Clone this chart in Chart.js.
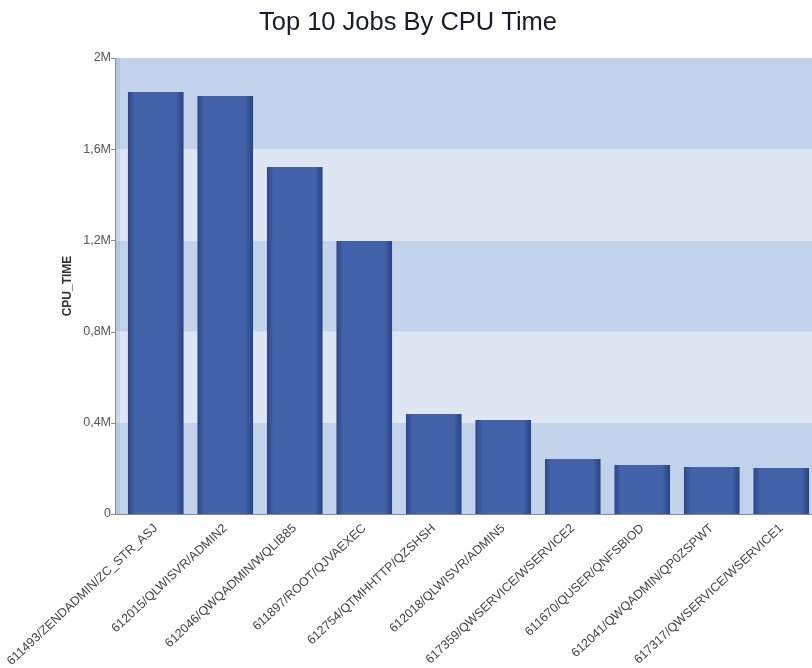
<!DOCTYPE html>
<html>
<head>
<meta charset="utf-8">
<script src="https://cdn.jsdelivr.net/npm/chart.js@4.4.1/dist/chart.umd.min.js"></script>
<style>
  body { margin: 0; overflow: hidden; background: #fff; }
</style>
</head>
<body>
<canvas id="cpuChart" width="816" height="668"></canvas>
<script>
const jobs = [
  '611493/ZENDADMIN/ZC_STR_ASJ',
  '612015/QLWISVR/ADMIN2',
  '612046/QWQADMIN/WQLIB85',
  '611897/ROOT/QJVAEXEC',
  '612754/QTMHHTTP/QZSHSH',
  '612018/QLWISVR/ADMIN5',
  '617359/QWSERVICE/WSERVICE2',
  '611670/QUSER/QNFSBIOD',
  '612041/QWQADMIN/QP0ZSPWT',
  '617317/QWSERVICE/WSERVICE1'
];
const cpuTime = [1851000, 1833000, 1522000, 1197000, 439000, 412000, 241000, 215000, 206000, 202000];
const yTickValues = [0, 400000, 800000, 1200000, 1600000, 2000000];
const yTickLabels = ['0', '0,4M', '0,8M', '1,2M', '1,6M', '2M'];

const AXIS_X = 115;

// striped background, left strip and axis lines
const bands = {
  id: 'bands',
  beforeDatasetsDraw(chart) {
    const { ctx, chartArea, scales: { y } } = chart;
    ctx.save();
    for (let i = 0; i < yTickValues.length - 1; i++) {
      const top = y.getPixelForValue(yTickValues[i + 1]);
      const bot = y.getPixelForValue(yTickValues[i]);
      ctx.fillStyle = i % 2 === 0 ? '#c2d2ea' : '#dde6f2';
      ctx.fillRect(AXIS_X, top, chartArea.right - AXIS_X, bot - top);
    }
    ctx.fillStyle = 'rgba(110,140,190,0.18)';
    ctx.fillRect(AXIS_X + 1, chartArea.top, chartArea.left - AXIS_X - 2, chartArea.bottom - chartArea.top);
    ctx.restore();
  },
  afterDatasetsDraw(chart) {
    const { ctx, chartArea, scales: { y } } = chart;
    ctx.save();
    ctx.strokeStyle = '#8a8a8a';
    ctx.lineWidth = 1;
    ctx.beginPath();
    ctx.moveTo(AXIS_X + 0.5, chartArea.top);
    ctx.lineTo(AXIS_X + 0.5, chartArea.bottom);
    ctx.moveTo(AXIS_X, chartArea.bottom + 0.5);
    ctx.lineTo(chartArea.right, chartArea.bottom + 0.5);
    yTickValues.forEach(v => {
      const py = Math.round(y.getPixelForValue(v)) + 0.5;
      ctx.moveTo(AXIS_X - 4, py);
      ctx.lineTo(AXIS_X, py);
    });
    ctx.stroke();
    ctx.restore();
  }
};

function barFill(c) {
  const chart = c.chart;
  const x = chart.scales.x;
  if (!x || !chart.chartArea || c.dataIndex === undefined) return '#4262aa';
  const cx = x.getPixelForValue(c.dataIndex);
  const w = (x.width / jobs.length) * 0.8;
  const g = chart.ctx.createLinearGradient(cx - w / 2, 0, cx + w / 2, 0);
  g.addColorStop(0, '#2b4686');
  g.addColorStop(0.12, '#4262aa');
  g.addColorStop(0.86, '#4262aa');
  g.addColorStop(1, '#294381');
  return g;
}

const ctx = document.getElementById('cpuChart').getContext('2d');
new Chart(ctx, {
  type: 'bar',
  data: {
    labels: jobs,
    datasets: [{
      label: 'CPU_TIME',
      data: cpuTime,
      backgroundColor: barFill,
      borderWidth: 0,
      categoryPercentage: 1,
      barPercentage: 0.8
    }]
  },
  options: {
    responsive: false,
    animation: false,
    layout: { padding: 0 },
    plugins: {
      legend: { display: false },
      tooltip: { enabled: false },
      title: {
        display: true,
        text: 'Top 10 Jobs By CPU Time',
        color: '#1a1a2a',
        font: { family: 'Liberation Sans, Arial, sans-serif', size: 25.5, weight: 'normal' },
        padding: { top: 8, bottom: 19.4 }
      }
    },
    scales: {
      y: {
        min: 0,
        max: 2000000,
        afterFit: s => { s.width = 121; s.paddingTop = 0; s.paddingBottom = 0; },
        afterBuildTicks: s => { s.ticks = yTickValues.map(v => ({ value: v })); },
        grid: { display: false, drawTicks: false },
        border: { display: false },
        ticks: {
          padding: 10,
          color: '#555',
          font: { family: 'Liberation Sans, Arial, sans-serif', size: 12.5 },
          callback: v => yTickLabels[yTickValues.indexOf(v)]
        },
        title: {
          display: true,
          text: 'CPU_TIME',
          color: '#333',
          font: { family: 'Liberation Sans, Arial, sans-serif', size: 12, weight: 'bold' },
          padding: { top: 60, bottom: 0 }
        }
      },
      x: {
        afterFit: s => { s.height = 154; s.paddingLeft = 0; s.paddingRight = 0; },
        grid: { display: false, drawTicks: false },
        border: { display: false },
        ticks: {
          autoSkip: false,
          minRotation: 43,
          maxRotation: 43,
          padding: 7,
          color: '#444',
          font: { family: 'Liberation Sans, Arial, sans-serif', size: 12.5 }
        }
      }
    }
  },
  plugins: [bands]
});
</script>
</body>
</html>
